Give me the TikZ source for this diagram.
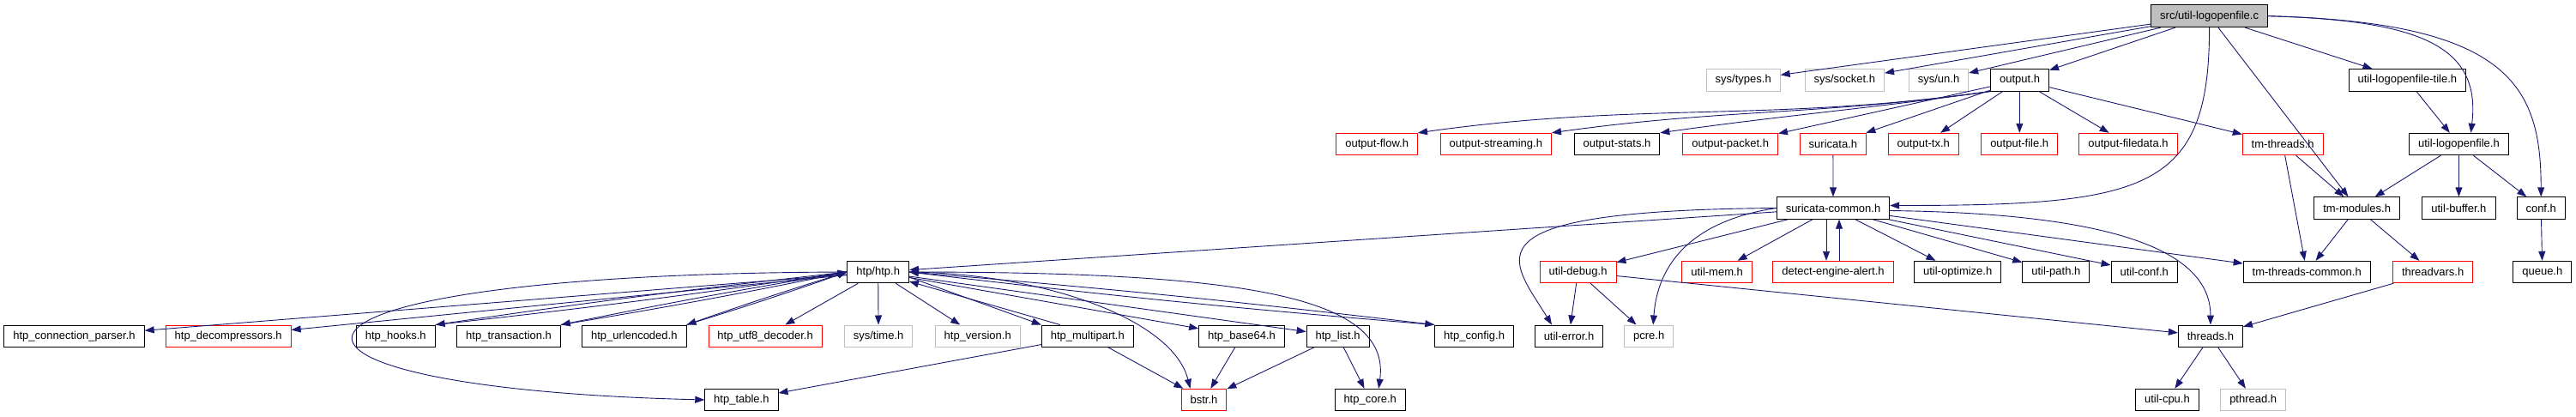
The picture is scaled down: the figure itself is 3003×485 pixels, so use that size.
\documentclass[tikz,border=0pt]{standalone}
\usepackage{fontspec}
\setmainfont{Liberation Sans}
\definecolor{edgeblue}{HTML}{191970}
\definecolor{boxgray}{HTML}{BFBFBF}
\usetikzlibrary{arrows.meta}

\begin{document}
\begin{tikzpicture}[x=1pt, y=-1pt,
            box/.style={draw=black, fill=white, line width=0.9pt,
                minimum height=25.5pt, inner xsep=10.5pt, inner ysep=0pt,
                font=\fontsize{13}{15}\selectfont},
            redbox/.style={box, draw=red},
            graybox/.style={box, draw=boxgray},
            rootbox/.style={box, fill=boxgray, minimum height=26pt},
            arr/.style={-{Triangle[length=11pt, width=8pt]}, edgeblue, line width=0.9pt}
          ]
          \useasboundingbox (0,0) rectangle (3003,485);
          \node[rootbox] (src) at (2575.6,18.7) {src/util-logopenfile.c};
          \node[graybox] (types)  at (2032.2,93.3) {sys/types.h};
          \node[graybox] (socket) at (2150.3,93.3) {sys/socket.h};
          \node[graybox] (un)     at (2260,93.3)   {sys/un.h};
          \node[box]     (output) at (2354.6,93.3) {output.h};
          \node[box]     (tile)   at (2806.3,93.3) {util-logopenfile-tile.h};
          \node[redbox] (oflow)     at (1605.2,168) {output-flow.h};
          \node[redbox] (ostream)   at (1743.8,168) {output-streaming.h};
          \node[box]    (ostats)    at (1885,168)   {output-stats.h};
          \node[redbox] (opacket)   at (2017.2,168) {output-packet.h};
          \node[redbox] (suricata)  at (2136.9,168) {suricata.h};
          \node[redbox] (otx)       at (2242.2,168) {output-tx.h};
          \node[redbox] (ofile)     at (2354.2,168) {output-file.h};
          \node[redbox] (ofiledata) at (2481,168)   {output-filedata.h};
          \node[redbox] (tmthreads) at (2661.2,168) {tm-threads.h};
          \node[box]    (ulog)      at (2866.4,168) {util-logopenfile.h};
          \node[box] (common)    at (2137,242.5)   {suricata-common.h};
          \node[box] (tmmodules) at (2747.6,242.5) {tm-modules.h};
          \node[box] (ubuffer)   at (2866.4,242.5) {util-buffer.h};
          \node[box] (conf)      at (2962.2,242.5) {conf.h};
          \node[box]    (htp)        at (1023.7,317) {htp/htp.h};
          \node[redbox] (udebug)     at (1839.5,317) {util-debug.h};
          \node[redbox] (umem)       at (2001.6,317) {util-mem.h};
          \node[redbox] (dealert)    at (2137,317)   {detect-engine-alert.h};
          \node[box]    (uopt)       at (2282.2,317) {util-optimize.h};
          \node[box]    (upath)      at (2396.8,317) {util-path.h};
          \node[box]    (uconf)      at (2499.7,317) {util-conf.h};
          \node[box]    (tmtc)       at (2689.2,317) {tm-threads-common.h};
          \node[redbox] (threadvars) at (2836.1,317) {threadvars.h};
          \node[box]    (queue)      at (2963.8,317) {queue.h};
          \node[box]      (connparser) at (86.5,391.7)   {htp\_connection\_parser.h};
          \node[redbox]   (decomp)     at (266.2,391.7)  {htp\_decompressors.h};
          \node[box]      (hooks)      at (461.3,391.7)  {htp\_hooks.h};
          \node[box]      (trans)      at (593.1,391.7)  {htp\_transaction.h};
          \node[box]      (urlenc)     at (739.3,391.7)  {htp\_urlencoded.h};
          \node[redbox]   (utf8)       at (892.1,391.7)  {htp\_utf8\_decoder.h};
          \node[graybox]  (systime)    at (1024.1,391.7) {sys/time.h};
          \node[graybox]  (version)    at (1139.7,391.7) {htp\_version.h};
          \node[box]      (mpart)      at (1267.8,391.7) {htp\_multipart.h};
          \node[box]      (base64)     at (1447.5,391.7) {htp\_base64.h};
          \node[box]      (list)       at (1559.6,391.7) {htp\_list.h};
          \node[box]      (config)     at (1718.6,391.7) {htp\_config.h};
          \node[box]      (uerror)     at (1829,391.7)   {util-error.h};
          \node[graybox]  (pcre)       at (1922.2,391.7) {pcre.h};
          \node[box]      (threads)    at (2576.9,391.7) {threads.h};
          \node[box]      (table)   at (864.4,466)  {htp\_table.h};
          \node[redbox]   (bstr)    at (1403.5,466) {bstr.h};
          \node[box]      (core)    at (1597.2,466) {htp\_core.h};
          \node[box]      (ucpu)    at (2526.4,466) {util-cpu.h};
          \node[graybox]  (pthread) at (2626.7,466) {pthread.h};
          \draw[arr] (src) -- (types);
          \draw[arr] (src) -- (socket);
          \draw[arr] (src) -- (un);
          \draw[arr] (src) -- (output);
          \draw[arr] (src.south) .. controls +(0,190) and +(300,0) .. ([yshift=3pt]common.east);
          \draw[arr] (src) -- (tmmodules);
          \draw[arr] (src) -- (tile);
          \draw[arr] (src.east) .. controls +(180,5) and +(12,-100) .. ([xshift=14pt]ulog.north);
          \draw[arr] (src.east) .. controls +(280,7) and +(0,-130) .. (conf.north);
          \draw[arr] (output.south west) to[out=188, in=8] (oflow.north east);
          \draw[arr] (output.south west) to[out=188, in=8] (ostream.north east);
          \draw[arr] (output.south west) to[out=188, in=8] (ostats.north east);
          \draw[arr] (output) -- (opacket);
          \draw[arr] (output) -- (suricata);
          \draw[arr] (output) -- (otx);
          \draw[arr] (output) -- (ofile);
          \draw[arr] (output) -- (ofiledata);
          \draw[arr] (output) -- (tmthreads);
          \draw[arr] (suricata)  -- (common);
          \draw[arr] (tile)      -- (ulog);
          \draw[arr] (tmthreads) -- (tmmodules);
          \draw[arr] (tmthreads) -- (tmtc);
          \draw[arr] (ulog)      -- (tmmodules);
          \draw[arr] (ulog)      -- (ubuffer);
          \draw[arr] (ulog)      -- (conf);
          \draw[arr] (conf)      -- (queue);
          \draw[arr] (tmmodules) -- (tmtc);
          \draw[arr] (tmmodules) -- (threadvars);
          \draw[arr] (threadvars) -- (threads);
          \draw[arr] (common) -- (htp);
          \draw[arr] (common) -- (udebug);
          \draw[arr] (common.west) .. controls +(-371,3) and +(-48,-78) .. ([xshift=-20pt]uerror.north);
          \draw[arr] (common.west) .. controls +(-100,15) and +(5,-70) .. ([xshift=5pt]pcre.north);
          \draw[arr] (common) -- (umem);
          \draw[arr] ([xshift=-8pt]common.south) -- ([xshift=-8pt]dealert.north);
          \draw[arr] ([xshift=7pt]dealert.north) -- ([xshift=7pt]common.south);
          \draw[arr] (common) -- (uopt);
          \draw[arr] (common) -- (upath);
          \draw[arr] (common) -- (uconf);
          \draw[arr] (common) -- (tmtc);
          \draw[arr] ([yshift=-3pt]common.east) .. controls +(250,3) and +(0,-90) .. (threads.north);
          \draw[arr] (udebug)  -- (uerror);
          \draw[arr] (udebug)  -- (pcre);
          \draw[arr] (udebug)  -- (threads);
          \draw[arr] (threads) -- (ucpu);
          \draw[arr] (threads) -- (pthread);
          \draw[arr] (htp) -- (connparser);
          \draw[arr] (htp) -- (decomp);
          \draw[arr] (htp.west) to[bend right=1] (hooks.north east);
          \draw[arr] (hooks.north east) to[bend right=1] (htp.west);
          \draw[arr] (htp.west) to[bend right=1] (trans.north east);
          \draw[arr] (trans.north east) to[bend right=1] (htp.west);
          \draw[arr] (htp.west) to[bend right=1] (urlenc.north east);
          \draw[arr] (urlenc.north east) to[bend right=1] (htp.west);
          \draw[arr] (htp) -- (utf8);
          \draw[arr] (htp) -- (systime);
          \draw[arr] (htp) -- (version);
          \draw[arr] ([yshift=-6pt]htp.east) -- (mpart.north west);
          \draw[arr] ([xshift=22pt]mpart.north west) -- ([yshift=-11pt]htp.east);
          \draw[arr] (htp) -- (base64);
          \draw[arr] (htp) -- (list);
          \draw[arr] (htp.east) to[bend left=1] (config.north west);
          \draw[arr] (config.north west) to[bend left=1] (htp.east);
          \draw[arr] (htp.east) .. controls +(160,2) and +(-20,-80) .. ([xshift=-16pt]bstr.north);
          \draw[arr] (htp.east) .. controls +(380,0) and +(15,-110) .. ([xshift=10pt]core.north);
          \draw[arr] (htp.west) .. controls +(-737,2) and +(-571,-14) .. (table.west);
          \draw[arr] (mpart)  -- (table);
          \draw[arr] (mpart)  -- (bstr);
          \draw[arr] (base64) -- (bstr);
          \draw[arr] (list)   -- (bstr);
          \draw[arr] (list)   -- (core);
        \end{tikzpicture}
\end{document}
